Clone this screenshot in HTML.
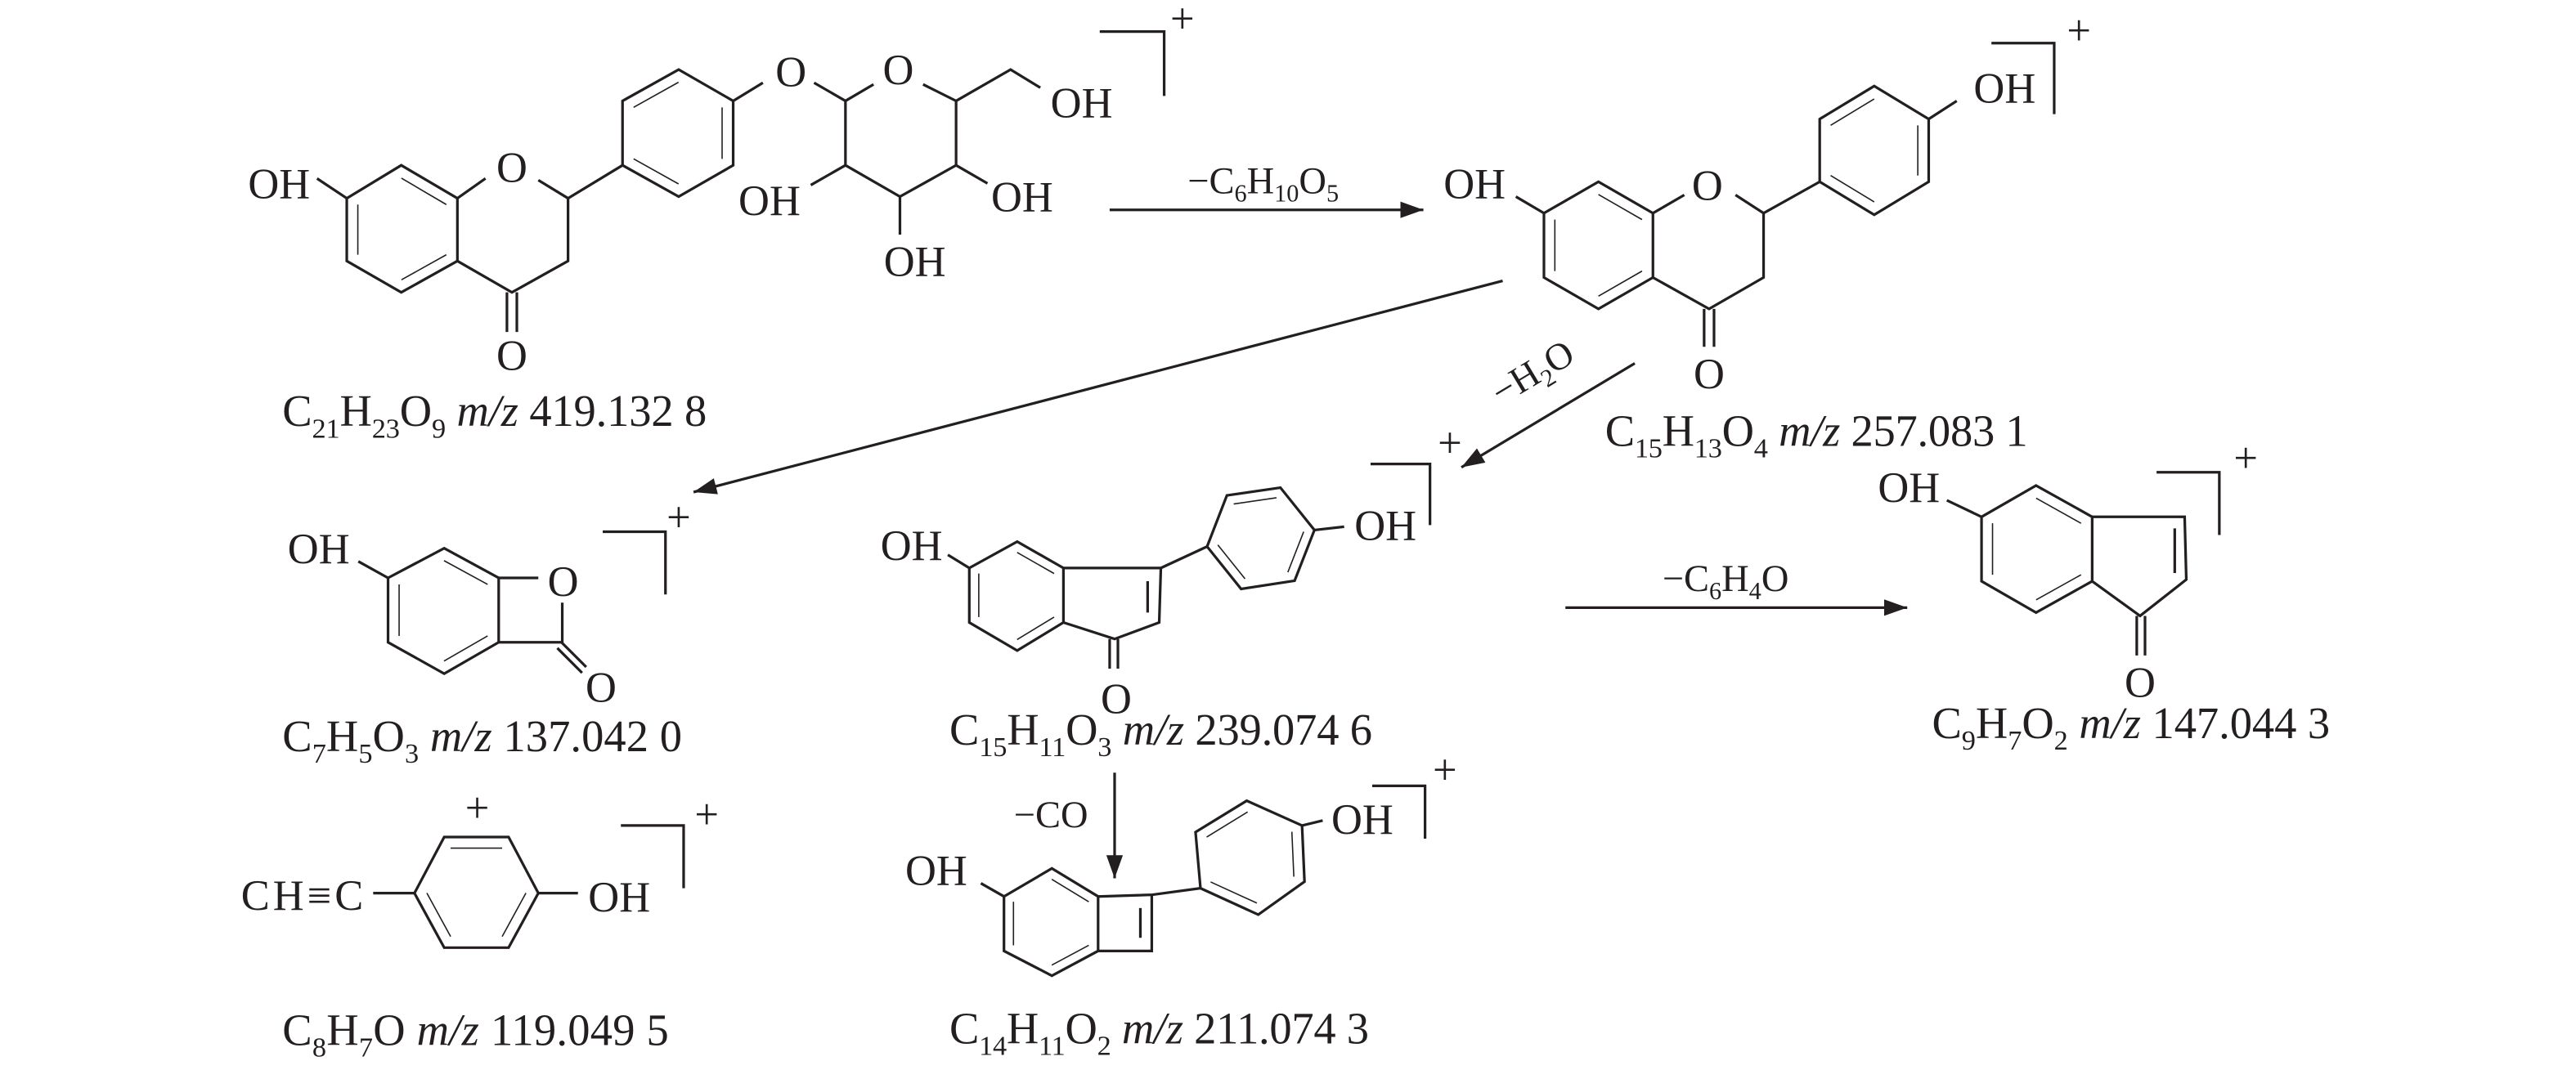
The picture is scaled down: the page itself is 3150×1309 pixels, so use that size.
<!DOCTYPE html>
<html><head><meta charset="utf-8"><style>
html,body{margin:0;padding:0;background:#fff;}
svg{display:block;}
text{font-family:"Liberation Serif",serif;fill:#231f20;}
.a{font-size:26px;text-anchor:middle;}
.lb{font-size:27px;}
.al{font-size:23px;}
.s{font-size:17px;}
.t{font-size:15px;}
</style></head><body>
<svg width="3150" height="1309" viewBox="0 0 1560 648" xmlns="http://www.w3.org/2000/svg">
<defs>
<marker id="ah" markerUnits="userSpaceOnUse" markerWidth="16" markerHeight="12" refX="14" refY="5" orient="auto"><path d="M0,0 L14,5 L0,10 z" fill="#231f20"/></marker>
</defs>
<g fill="none" stroke="#231f20" stroke-width="1.6" stroke-linejoin="miter">
<!-- M1 -->
<polygon points="210,120 243,100 277,120 277,158 243,177 210,158"/>
<g transform="translate(243.5,139) scale(0.8) translate(-243.5,-139)"><path vector-effect="non-scaling-stroke" d="M210,158 L210,120 M243,100 L277,120 M243,177 L277,158"/></g>
<path d="M192,108 L210,120 M277,120 L294,108 M326,109 L344,120 L344,158 L310,177 L277,158 M307,177 L307,201 M313,177 L313,201 M344,120 L377,100"/>
<polygon points="377,100 377,61 411,42 444,61 444,100 411,119"/>
<g transform="translate(410.5,80.5) scale(0.8) translate(-410.5,-80.5)"><path vector-effect="non-scaling-stroke" d="M377,61 L411,42 M444,61 L444,100 M377,100 L411,119"/></g>
<path d="M444,61 L462,50 M493,50 L512,61 M512,61 L529,51 M559,51 L579,61 L579,100 L545,119 L512,100 L512,61 M579,61 L612,42 L630,53 M512,100 L491,112 M545,119 L545,142 M579,100 L598,111"/>
<path d="M666,19 H705 V58"/>
<!-- arrows -->
<line x1="672" y1="127" x2="862" y2="127" marker-end="url(#ah)"/>
<line x1="910" y1="170" x2="420" y2="298" marker-end="url(#ah)"/>
<line x1="990" y1="220" x2="885" y2="283" marker-end="url(#ah)"/>
<line x1="948" y1="368" x2="1155" y2="368" marker-end="url(#ah)"/>
<line x1="675" y1="468" x2="675" y2="532" marker-end="url(#ah)"/>
<!-- M2 -->
<polygon points="935,129 968,110 1001,129 1001,168 968,187 935,168"/>
<g transform="translate(968,148.5) scale(0.8) translate(-968,-148.5)"><path vector-effect="non-scaling-stroke" d="M935,168 L935,129 M968,110 L1001,129 M968,187 L1001,168"/></g>
<path d="M918,119 L935,129 M1001,129 L1020,118 M1051,118 L1068,129 L1068,168 L1035,187 L1001,168 M1032,187 L1032,210 M1038,187 L1038,210 M1068,129 L1102,110"/>
<polygon points="1102,110 1102,72 1135,52 1168,72 1168,110 1135,130"/>
<g transform="translate(1135,91) scale(0.8) translate(-1135,-91)"><path vector-effect="non-scaling-stroke" d="M1102,72 L1135,52 M1168,72 L1168,110 M1102,110 L1135,130"/></g>
<path d="M1168,72 L1185,61 M1206,26 H1244 V69"/>
<!-- M137 -->
<polygon points="235,350 269,332 302,350 302,389 269,408 235,389"/>
<g transform="translate(268.5,369.7) scale(0.8) translate(-268.5,-369.7)"><path vector-effect="non-scaling-stroke" d="M235,350 L235,389 M269,332 L302,350 M269,408 L302,389"/></g>
<path d="M217,340 L235,350 M302,350 L326,350 M340.5,365 L340.5,389 L302,389 M340,389 L355,404 M337.5,392.5 L352.5,407.5 M365,322 H403 V360"/>
<!-- M119 -->
<polygon points="251,541 269,507 308,507 326,541 308,574 269,574"/>
<g transform="translate(288.5,540.5) scale(0.8) translate(-288.5,-540.5)"><path vector-effect="non-scaling-stroke" d="M269,507 L308,507 M251,541 L269,574 M326,541 L308,574"/></g>
<path d="M226,541 L251,541 M326,541 L350,541 M376,500 H414 V538"/>
<!-- M239 -->
<polygon points="587,344 616,328 644,344 644,377 616,394 587,377"/>
<g transform="translate(615.7,360.7) scale(0.8) translate(-615.7,-360.7)"><path vector-effect="non-scaling-stroke" d="M587,344 L587,377 M616,328 L644,344 M616,394 L644,377"/></g>
<path d="M574,336 L587,344 M644,344 L703,344 L702,377 L675,387 L644,377 M695,352 L695,371 M672,387 L672,405 M677,387 L677,405 M703,344 L731,331"/>
<polygon points="731,331 743,300 775.4,295.3 796,321 784,351.7 751.6,356.7"/>
<g transform="translate(763.5,326) scale(0.8) translate(-763.5,-326)"><path vector-effect="non-scaling-stroke" d="M743,300 L775.4,295.3 M796,321 L784,351.7 M731,331 L751.6,356.7"/></g>
<path d="M796,321 L814,319 M830,281 H866 V318"/>
<!-- M211 -->
<polygon points="608,543 637,526 665,543 665,576 637,591 608,576"/>
<g transform="translate(636.7,559) scale(0.8) translate(-636.7,-559)"><path vector-effect="non-scaling-stroke" d="M608,543 L608,576 M637,526 L665,543 M637,591 L665,576"/></g>
<path d="M594,535 L608,543 M665,543 L697.5,542 L697.5,576 L665,576 M690.6,550 L690.6,568 M697.5,542 L727,538"/>
<polygon points="727,538 724,504 755,485 788.5,500 790,534 762,554"/>
<g transform="translate(757.7,519) scale(0.8) translate(-757.7,-519)"><path vector-effect="non-scaling-stroke" d="M724,504 L755,485 M788.5,500 L790,534 M727,538 L762,554"/></g>
<path d="M788.5,500 L801,497 M831,476 H863 V508"/>
<!-- M147 -->
<polygon points="1200,313 1233,294 1267,313 1267,352 1233,371 1200,352"/>
<g transform="translate(1233.3,332.5) scale(0.8) translate(-1233.3,-332.5)"><path vector-effect="non-scaling-stroke" d="M1200,313 L1200,352 M1233,294 L1267,313 M1233,371 L1267,352"/></g>
<path d="M1179,303 L1200,313 M1267,313 L1323,313 L1324,351 L1296,373 L1267,352 M1317,320 L1317,347 M1294,373 L1294,397 M1299,373 L1299,397 M1306,286 H1344 V324"/>
</g>

<!-- atom labels -->
<text class="a" x="169" y="120">OH</text>
<text class="a" x="310" y="110">O</text>
<text class="a" x="310" y="224">O</text>
<text class="a" x="479" y="52">O</text>
<text class="a" x="544" y="51">O</text>
<text class="a" x="655" y="71">OH</text>
<text class="a" x="466" y="130">OH</text>
<text class="a" x="554" y="167">OH</text>
<text class="a" x="619" y="128">OH</text>
<text class="a" x="716" y="20">+</text>

<text class="a" x="893" y="120">OH</text>
<text class="a" x="1034" y="121">O</text>
<text class="a" x="1035" y="235">O</text>
<text class="a" x="1214" y="62">OH</text>
<text class="a" x="1259" y="27">+</text>

<text class="a" x="193" y="341">OH</text>
<text class="a" x="341" y="361">O</text>
<text class="a" x="364" y="425">O</text>
<text class="a" x="411" y="322">+</text>

<text style="font-size:26px" x="146" y="551" textLength="74">CH≡C</text>
<text class="a" x="289" y="498">+</text>
<text class="a" x="375" y="552">OH</text>
<text class="a" x="428" y="502">+</text>

<text class="a" x="552" y="339">OH</text>
<text class="a" x="676" y="432">O</text>
<text class="a" x="839" y="327">OH</text>
<text class="a" x="878" y="277">+</text>

<text class="a" x="567" y="536">OH</text>
<text class="a" x="825" y="505">OH</text>
<text class="a" x="875" y="475">+</text>

<text class="a" x="1156" y="304">OH</text>
<text class="a" x="1296" y="422">O</text>
<text class="a" x="1360" y="286">+</text>

<!-- reaction labels -->
<text class="al" x="765" y="117" text-anchor="middle">−C<tspan class="t" dy="5">6</tspan><tspan dy="-5">H</tspan><tspan class="t" dy="5">10</tspan><tspan dy="-5">O</tspan><tspan class="t" dy="5">5</tspan></text>
<text class="al" x="1045" y="358" text-anchor="middle">−C<tspan class="t" dy="5">6</tspan><tspan dy="-5">H</tspan><tspan class="t" dy="5">4</tspan><tspan dy="-5">O</tspan></text>
<text class="al" x="614" y="501">−CO</text>
<text class="al" x="0" y="0" text-anchor="middle" transform="translate(932,232) rotate(-31)">−H<tspan class="t" dy="5">2</tspan><tspan dy="-5">O</tspan></text>

<!-- formula labels -->
<text class="lb" x="171" y="258" textLength="257">C<tspan class="s" dy="7">21</tspan><tspan dy="-7">H</tspan><tspan class="s" dy="7">23</tspan><tspan dy="-7">O</tspan><tspan class="s" dy="7">9</tspan><tspan dy="-7"> </tspan><tspan font-style="italic">m/z</tspan> 419.132 8</text>
<text class="lb" x="972" y="270" textLength="256">C<tspan class="s" dy="7">15</tspan><tspan dy="-7">H</tspan><tspan class="s" dy="7">13</tspan><tspan dy="-7">O</tspan><tspan class="s" dy="7">4</tspan><tspan dy="-7"> </tspan><tspan font-style="italic">m/z</tspan> 257.083 1</text>
<text class="lb" x="171" y="455" textLength="242">C<tspan class="s" dy="7">7</tspan><tspan dy="-7">H</tspan><tspan class="s" dy="7">5</tspan><tspan dy="-7">O</tspan><tspan class="s" dy="7">3</tspan><tspan dy="-7"> </tspan><tspan font-style="italic">m/z</tspan> 137.042 0</text>
<text class="lb" x="575" y="451" textLength="256">C<tspan class="s" dy="7">15</tspan><tspan dy="-7">H</tspan><tspan class="s" dy="7">11</tspan><tspan dy="-7">O</tspan><tspan class="s" dy="7">3</tspan><tspan dy="-7"> </tspan><tspan font-style="italic">m/z</tspan> 239.074 6</text>
<text class="lb" x="1170" y="447" textLength="241">C<tspan class="s" dy="7">9</tspan><tspan dy="-7">H</tspan><tspan class="s" dy="7">7</tspan><tspan dy="-7">O</tspan><tspan class="s" dy="7">2</tspan><tspan dy="-7"> </tspan><tspan font-style="italic">m/z</tspan> 147.044 3</text>
<text class="lb" x="171" y="633" textLength="234">C<tspan class="s" dy="7">8</tspan><tspan dy="-7">H</tspan><tspan class="s" dy="7">7</tspan><tspan dy="-7">O </tspan><tspan font-style="italic">m/z</tspan> 119.049 5</text>
<text class="lb" x="575" y="632" textLength="254">C<tspan class="s" dy="7">14</tspan><tspan dy="-7">H</tspan><tspan class="s" dy="7">11</tspan><tspan dy="-7">O</tspan><tspan class="s" dy="7">2</tspan><tspan dy="-7"> </tspan><tspan font-style="italic">m/z</tspan> 211.074 3</text>
</svg>
</body></html>
